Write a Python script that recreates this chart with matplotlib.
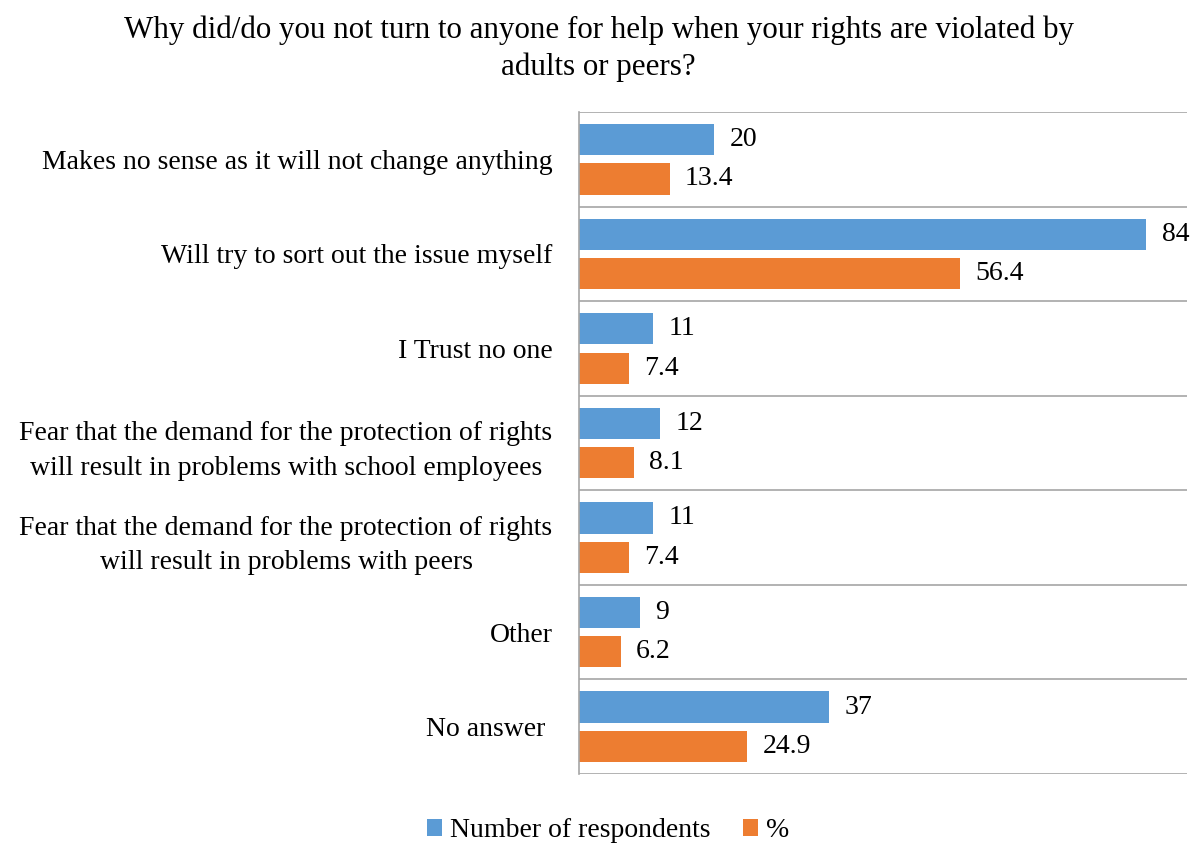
import numpy as np
import matplotlib.pyplot as plt

categories = [
    "Makes no sense as it will not change anything",
    "Will try to sort out the issue myself",
    "I Trust no one",
    "Fear that the demand for the protection of rights\nwill result in problems with school employees",
    "Fear that the demand for the protection of rights\nwill result in problems with peers",
    "Other",
    "No answer ",
]
respondents = [20, 84, 11, 12, 11, 9, 37]
percent = [13.4, 56.4, 7.4, 8.1, 7.4, 6.2, 24.9]

plt.rcParams['font.family'] = ['Liberation Serif', 'DejaVu Serif']

fig = plt.figure(figsize=(11.97, 8.44), dpi=100)
ax = fig.add_axes([0.4837, 0.0829, 0.5079, 0.7844])

y = np.arange(len(categories))
h = 0.33
b1 = ax.barh(y - 0.208, respondents, height=h, color='#5B9BD5', label='Number of respondents')
b2 = ax.barh(y + 0.208, percent, height=h, color='#ED7D31', label='%')

ax.bar_label(b1, fmt='{:g}', padding=11, fontsize=20)
ax.bar_label(b2, fmt='{:g}', padding=11, fontsize=20)

ax.set_xlim(0, 90)
ax.set_ylim(len(categories) - 0.5, -0.5)
ax.set_xticks([])
ax.set_yticks(y, categories, fontsize=20)
ax.tick_params(axis='y', length=0, pad=19)
for lbl in ax.get_yticklabels():
    lbl.set_multialignment('center')
    lbl.set_linespacing(1.5)

# separators between the groups
for b in np.arange(-0.5, len(categories), 1.0):
    ax.axhline(b, color='#A6A6A6', lw=1.2, zorder=0)

for s in ['top', 'right', 'bottom']:
    ax.spines[s].set_visible(False)
ax.spines['left'].set_color('#A6A6A6')
ax.spines['left'].set_linewidth(1.2)

fig.text(0.5, 0.982, "Why did/do you not turn to anyone for help when your rights are violated by\nadults or peers?",
         ha='center', va='top', fontsize=22.3, linespacing=1.35)

fig.legend(handles=[b1, b2], loc='center', bbox_to_anchor=(0.508, 0.016), ncol=2, frameon=False,
           fontsize=20, handlelength=0.55, handleheight=0.55, handletextpad=0.3, columnspacing=1.15)

fig.savefig('out.png', dpi=100)
